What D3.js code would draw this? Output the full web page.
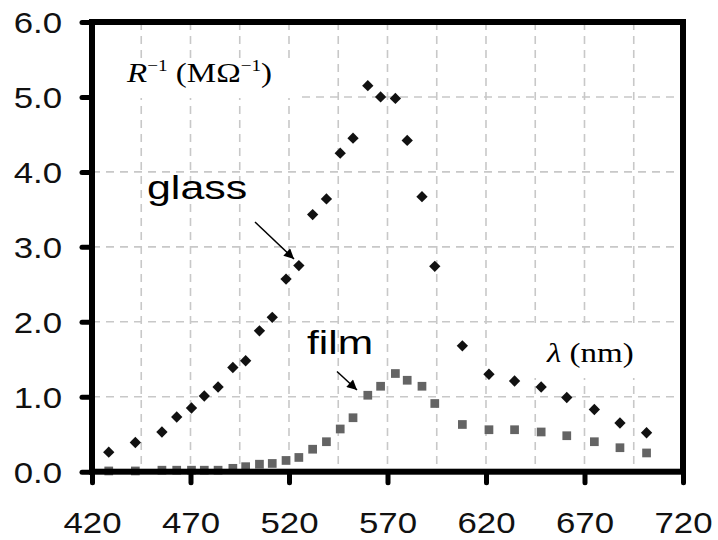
<!DOCTYPE html>
<html><head><meta charset="utf-8">
<script src="https://cdn.jsdelivr.net/npm/d3@7"></script>
<style>html,body{margin:0;padding:0;background:#fff;}</style>
</head><body>
<svg id="chart" width="718" height="540"></svg>
<script>
const wavelength = [428.5,442,455.5,463,470.5,477,484,491.5,498,505,511.5,518.5,525,532,539,546,552.5,560,566.5,574,580,587.5,594,608,621.5,634.5,648,661,675,688,701.5];
const glass = [0.26,0.39,0.53,0.73,0.85,1.01,1.13,1.39,1.48,1.88,2.06,2.57,2.75,3.43,3.64,4.25,4.45,5.15,5.00,4.98,4.42,3.67,2.74,1.68,1.30,1.21,1.13,0.99,0.83,0.65,0.52];
const film = [0.01,0.01,0.02,0.02,0.02,0.02,0.02,0.045,0.067,0.10,0.11,0.15,0.19,0.30,0.40,0.57,0.72,1.02,1.14,1.31,1.22,1.14,0.91,0.63,0.56,0.56,0.53,0.48,0.40,0.32,0.25];
const xTicks = [420,470,520,570,620,670,720];
const yTicks = [0,1,2,3,4,5,6];
const xGrid = [445,470,495,520,545,570,595,620,645,670,695];
const yGrid = [1,2,3,4,5];

const svg = d3.select("#chart");
const x = d3.scaleLinear().domain([420,720]).range([92,683]);
const y = d3.scaleLinear().domain([0,6]).range([471.7,22]);
const SX = 1.2;
const sans = "'Liberation Sans', Arial, sans-serif";
const serif = "'Liberation Serif', 'Times New Roman', serif";

// grid
const grid = svg.append("g").attr("stroke","#c8c8c8").attr("stroke-width",1.6).attr("stroke-dasharray","8,6");
grid.selectAll(".vg").data(xGrid).enter().append("line")
  .attr("x1",d=>x(d)).attr("x2",d=>x(d)).attr("y1",y(6)).attr("y2",y(0));
grid.selectAll(".hg").data(yGrid).enter().append("line")
  .attr("x1",x(420)).attr("x2",x(720)).attr("y1",d=>y(d)).attr("y2",d=>y(d));

// label boxes (white background covering grid)
svg.append("rect").attr("x",x(420)).attr("y",60).attr("width",297-x(420)).attr("height",38).attr("fill","#fff");
svg.append("rect").attr("x",525).attr("y",323).attr("width",140).attr("height",55).attr("fill","#fff");

// y label
const yl = svg.append("text").attr("transform",`translate(127,82) scale(${SX},1)`)
  .attr("font-family",serif).attr("font-size",27.5).attr("fill","#000");
yl.append("tspan").attr("font-style","italic").text("R");
yl.append("tspan").attr("font-size",16).attr("dy",-11).text("\u22121");
yl.append("tspan").attr("dy",11).text(" (M\u03A9");
yl.append("tspan").attr("font-size",16).attr("dy",-11).text("\u22121");
yl.append("tspan").attr("dy",11).text(")");

// x label
const xl = svg.append("text").attr("transform",`translate(547,362) scale(${SX},1)`)
  .attr("font-family",serif).attr("font-size",27.5).attr("fill","#000");
xl.append("tspan").attr("font-style","italic").text("\u03BB");
xl.append("tspan").text(" (nm)");

// series labels
svg.append("text").attr("transform",`translate(147,199) scale(1.3,1)`)
  .attr("font-family",sans).attr("font-size",33).attr("fill","#000").text("glass");
svg.append("text").attr("transform",`translate(307,354) scale(1.25,1)`)
  .attr("font-family",sans).attr("font-size",34).attr("fill","#000").text("film");

// arrows
const defs = svg.append("defs");
defs.append("marker").attr("id","ah").attr("viewBox","0 0 10 10").attr("refX",10).attr("refY",5)
  .attr("markerWidth",13).attr("markerHeight",10).attr("markerUnits","userSpaceOnUse").attr("orient","auto")
  .append("path").attr("d","M0,0 L10,5 L0,10 Z").attr("fill","#000");
svg.append("line").attr("x1",255).attr("y1",222).attr("x2",294).attr("y2",259)
  .attr("stroke","#000").attr("stroke-width",1.5).attr("marker-end","url(#ah)");
svg.append("line").attr("x1",337).attr("y1",371.5).attr("x2",357).attr("y2",390)
  .attr("stroke","#000").attr("stroke-width",1.5).attr("marker-end","url(#ah)");

// data
svg.append("g").selectAll("path").data(wavelength).enter().append("path")
  .attr("d",d3.symbol().type(d3.symbolSquare).size(76)()).attr("fill","#646464")
  .attr("transform",(d,i)=>`translate(${x(d)},${y(film[i])})`);
svg.append("g").selectAll("path").data(wavelength).enter().append("path")
  .attr("d",d3.symbol().type(d3.symbolSquare).size(64)()).attr("fill","#111")
  .attr("transform",(d,i)=>`translate(${x(d)},${y(glass[i])}) rotate(45)`);

// border
svg.append("rect").attr("x",x(420)).attr("y",y(6)).attr("width",x(720)-x(420)).attr("height",y(0)-y(6))
  .attr("fill","none").attr("stroke","#000").attr("stroke-width",6);

// axes
const ya = svg.append("g").attr("transform",`translate(${x(420)},0)`)
  .call(d3.axisLeft(y).tickValues(yTicks).tickFormat(d3.format(".1f")).tickSize(10));
const xa = svg.append("g").attr("transform",`translate(0,${y(0)})`)
  .call(d3.axisBottom(x).tickValues(xTicks).tickSize(11));
[ya,xa].forEach(a=>{
  a.select(".domain").remove();
  a.selectAll(".tick line").attr("stroke","#000").attr("stroke-width",5).attr("stroke-linecap","round");
  a.selectAll("text").attr("font-family",sans).attr("font-size",29).attr("fill","#111");
});
ya.selectAll("text").attr("x",0).attr("dy",null).attr("transform",`translate(-30,10.5) scale(${SX},1)`).attr("text-anchor","end");
xa.selectAll("text").attr("y",0).attr("dy",null).attr("transform",`translate(0,61.5) scale(${SX},1)`).attr("text-anchor","middle");
</script>
</body></html>
